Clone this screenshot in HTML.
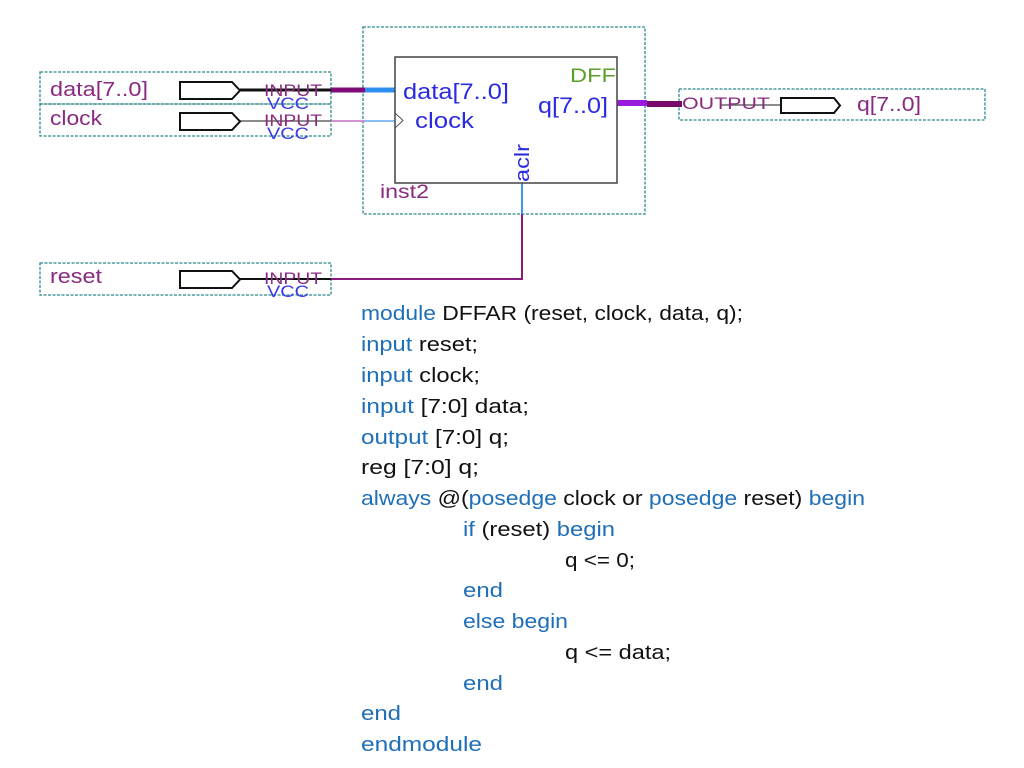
<!DOCTYPE html>
<html><head><meta charset="utf-8"><style>
html,body{margin:0;padding:0;background:#fff;}
svg{display:block}
.k{fill:#1f6fb8}
</style></head><body>
<svg width="1024" height="768" viewBox="0 0 1024 768" xmlns="http://www.w3.org/2000/svg" font-family="Liberation Sans, Arial, sans-serif">
<g fill="none" stroke="#2a8a8a" stroke-width="1.3" stroke-dasharray="3,1.5">
<rect x="40" y="72" width="291" height="32"/>
<rect x="40" y="104" width="291" height="32"/>
<rect x="40" y="263" width="291" height="32"/>
<rect x="363" y="27" width="282" height="187"/>
<rect x="679" y="89" width="306" height="31"/>
</g>
<g fill="#8a2a80" font-size="20">
<text x="50" y="96" textLength="98" lengthAdjust="spacingAndGlyphs">data[7..0]</text>
<text x="50" y="125" textLength="52" lengthAdjust="spacingAndGlyphs">clock</text>
<text x="50" y="283" textLength="52" lengthAdjust="spacingAndGlyphs">reset</text>
<text x="857" y="111" textLength="64" lengthAdjust="spacingAndGlyphs">q[7..0]</text>
<text x="380" y="198" font-size="19" textLength="49" lengthAdjust="spacingAndGlyphs">inst2</text>
</g>
<line x1="240" y1="90" x2="331" y2="90" stroke="#111" stroke-width="3"/>
<line x1="331" y1="90" x2="365" y2="90" stroke="#800a78" stroke-width="5"/>
<line x1="365" y1="90" x2="395" y2="90" stroke="#2f8fef" stroke-width="5"/>
<line x1="240" y1="121" x2="331" y2="121" stroke="#666" stroke-width="1.5"/>
<line x1="331" y1="121" x2="365" y2="121" stroke="#c070c0" stroke-width="1.5"/>
<line x1="365" y1="121" x2="395" y2="121" stroke="#60a8f0" stroke-width="1.5"/>
<line x1="240" y1="279" x2="331" y2="279" stroke="#111" stroke-width="2"/>
<line x1="331" y1="279" x2="522" y2="279" stroke="#8a1a80" stroke-width="2"/>
<line x1="522" y1="214" x2="522" y2="280" stroke="#8a1a80" stroke-width="2"/>
<line x1="522" y1="183" x2="522" y2="214" stroke="#3a9ae8" stroke-width="2"/>
<line x1="617" y1="103" x2="647" y2="103" stroke="#9a1ae0" stroke-width="6"/>
<line x1="647" y1="104" x2="682" y2="104" stroke="#780a6a" stroke-width="6"/>
<line x1="720" y1="105" x2="781" y2="105" stroke="#666" stroke-width="1.5"/>
<g fill="#fff" stroke="#111" stroke-width="2">
<path d="M180 82 H232 L240 90.5 L232 99 H180 Z"/>
<path d="M180 113 H232 L240 121.5 L232 130 H180 Z"/>
<path d="M180 271 H232 L240 279.5 L232 288 H180 Z"/>
<path d="M781 98 H834 L840 105.5 L834 113 H781 Z"/>
</g>
<g font-size="17">
<g fill="#8a2a80">
<text x="264" y="96" textLength="58" lengthAdjust="spacingAndGlyphs">INPUT</text>
<text x="264" y="126" textLength="58" lengthAdjust="spacingAndGlyphs">INPUT</text>
<text x="264" y="284" textLength="58" lengthAdjust="spacingAndGlyphs">INPUT</text>
<text x="682" y="109" textLength="88" lengthAdjust="spacingAndGlyphs">OUTPUT</text></g>
<g fill="#3a3ae8">
<text x="267" y="109" textLength="42" lengthAdjust="spacingAndGlyphs">VCC</text>
<text x="267" y="139" textLength="42" lengthAdjust="spacingAndGlyphs">VCC</text>
<text x="267" y="297" textLength="42" lengthAdjust="spacingAndGlyphs">VCC</text></g>
</g>
<rect x="395" y="57" width="222" height="126" fill="#fff" stroke="#444" stroke-width="1.5"/>
<path d="M395 113 L403 120.5 L395 128" fill="none" stroke="#555" stroke-width="1"/>
<text x="570" y="82" font-size="19" fill="#5aa02a" textLength="46" lengthAdjust="spacingAndGlyphs">DFF</text>
<g fill="#2a2ae0" font-size="22">
<text x="403" y="99" textLength="106" lengthAdjust="spacingAndGlyphs">data[7..0]</text>
<text x="415" y="128" textLength="59" lengthAdjust="spacingAndGlyphs">clock</text>
<text x="538" y="113" textLength="70" lengthAdjust="spacingAndGlyphs">q[7..0]</text>
<text transform="translate(529,182) rotate(-90)" font-size="20" textLength="38" lengthAdjust="spacingAndGlyphs">aclr</text>
</g>
<g font-size="20" fill="#111">
<text x="361" y="320" textLength="382" lengthAdjust="spacingAndGlyphs"><tspan class="k">module</tspan> DFFAR (reset, clock, data, q);</text>
<text x="361" y="351" textLength="117" lengthAdjust="spacingAndGlyphs"><tspan class="k">input</tspan> reset;</text>
<text x="361" y="382" textLength="119" lengthAdjust="spacingAndGlyphs"><tspan class="k">input</tspan> clock;</text>
<text x="361" y="413" textLength="168" lengthAdjust="spacingAndGlyphs"><tspan class="k">input</tspan> [7:0] data;</text>
<text x="361" y="444" textLength="148" lengthAdjust="spacingAndGlyphs"><tspan class="k">output</tspan> [7:0] q;</text>
<text x="361" y="474" textLength="118" lengthAdjust="spacingAndGlyphs">reg [7:0] q;</text>
<text x="361" y="505" textLength="504" lengthAdjust="spacingAndGlyphs"><tspan class="k">always</tspan> @(<tspan class="k">posedge</tspan> clock or <tspan class="k">posedge</tspan> reset) <tspan class="k">begin</tspan></text>
<text x="463" y="536" textLength="152" lengthAdjust="spacingAndGlyphs"><tspan class="k">if</tspan> (reset) <tspan class="k">begin</tspan></text>
<text x="565" y="567" textLength="70" lengthAdjust="spacingAndGlyphs">q &lt;= 0;</text>
<text x="463" y="597" class="k" textLength="40" lengthAdjust="spacingAndGlyphs">end</text>
<text x="463" y="628" class="k" textLength="105" lengthAdjust="spacingAndGlyphs">else begin</text>
<text x="565" y="659" textLength="106" lengthAdjust="spacingAndGlyphs">q &lt;= data;</text>
<text x="463" y="690" class="k" textLength="40" lengthAdjust="spacingAndGlyphs">end</text>
<text x="361" y="720" class="k" textLength="40" lengthAdjust="spacingAndGlyphs">end</text>
<text x="361" y="751" class="k" textLength="121" lengthAdjust="spacingAndGlyphs">endmodule</text>
</g>
</svg>
</body></html>
